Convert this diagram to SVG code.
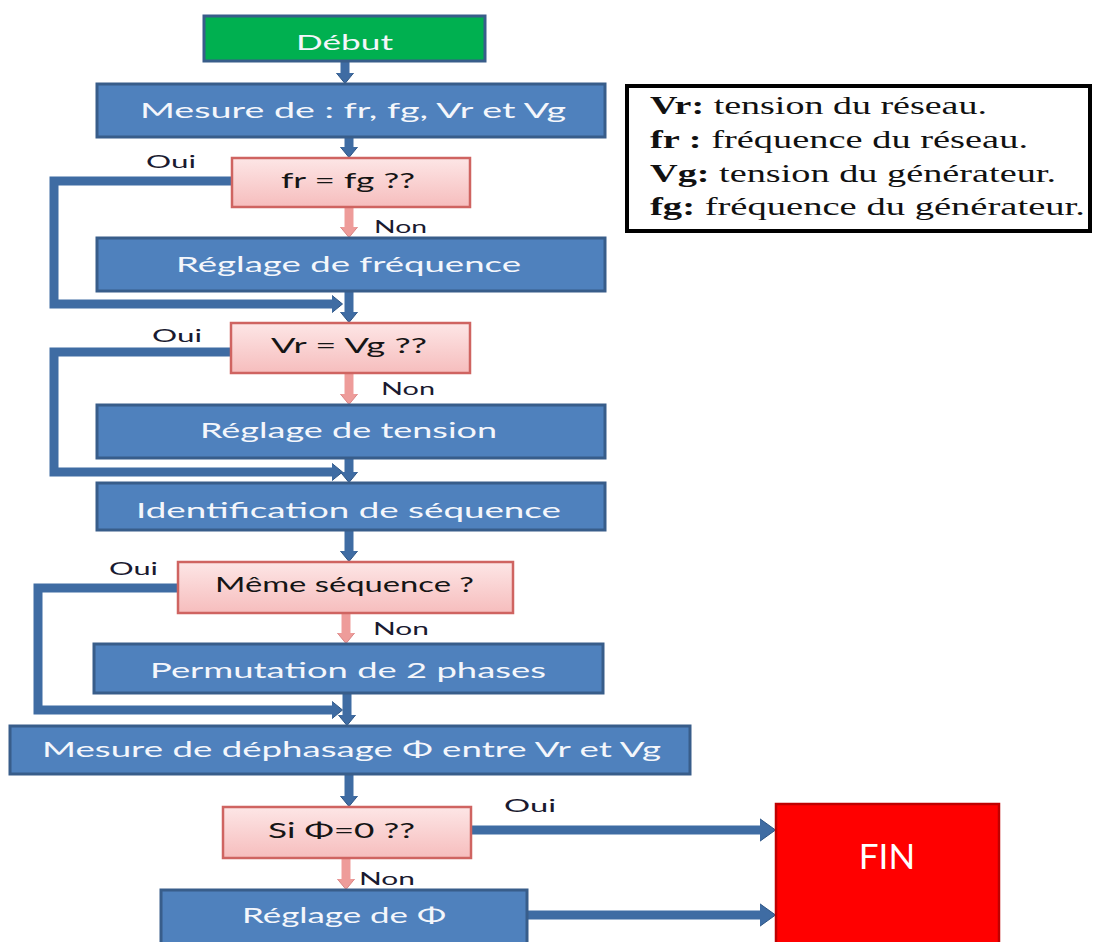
<svg xmlns="http://www.w3.org/2000/svg" width="1093" height="942" viewBox="0 0 1093 942">
<style>
.blue{fill:#4F81BD;stroke:#385D8A;stroke-width:3}
.pink{fill:url(#pg);stroke:#CF6461;stroke-width:2.5}
.wt{font-family:Lato,"Liberation Sans",sans-serif;font-size:22px;fill:#F4F6FB;text-anchor:start}
.dt{font-family:Lato,"Liberation Sans",sans-serif;font-size:22px;fill:#151515}
.lb{font-family:Lato,"Liberation Sans",sans-serif;font-size:18px;fill:#1A1A30}
.lg{font-family:"Liberation Serif","Times New Roman",serif;font-size:26px;fill:#111}
.cb{fill:none;stroke:#3F6CA3;stroke-width:9}
.cp{fill:none;stroke:#EE9C9A;stroke-width:9}
</style>
<defs>
<linearGradient id="pg" x1="0" y1="0" x2="0" y2="1">
<stop offset="0" stop-color="#FDE6E6"/>
<stop offset="1" stop-color="#F6BDBD"/>
</linearGradient>
<marker id="ab" markerUnits="userSpaceOnUse" markerWidth="12" markerHeight="20" viewBox="0 0 12 20" refX="0.5" refY="10" orient="auto">
<path d="M0,1 L11,10 L0,19 z" fill="#3F6CA3" stroke="#2D5585" stroke-width="1"/>
</marker>
<marker id="abl" markerUnits="userSpaceOnUse" markerWidth="18" markerHeight="26" viewBox="0 0 18 26" refX="0.5" refY="13" orient="auto">
<path d="M0,1.5 L16,13 L0,24.5 z" fill="#3F6CA3" stroke="#2D5585" stroke-width="1"/>
</marker>
<marker id="ap" markerUnits="userSpaceOnUse" markerWidth="12" markerHeight="20" viewBox="0 0 12 20" refX="0.5" refY="10" orient="auto">
<path d="M0,1 L11,10 L0,19 z" fill="#EE9C9A" stroke="#D98584" stroke-width="1"/>
</marker>
</defs>
<rect width="1093" height="942" fill="#FFFFFF"/>

<g id="connectors">
<path class="cb" d="M345,61 V73" marker-end="url(#ab)"/>
<path class="cb" d="M349,137 V147" marker-end="url(#ab)"/>
<path class="cp" d="M349,207 V227" marker-end="url(#ap)"/>
<path class="cb" d="M232,181 H54 V304 H332" marker-end="url(#ab)"/>
<path class="cb" d="M349,291 V312" marker-end="url(#ab)"/>
<path class="cp" d="M349,373 V394" marker-end="url(#ap)"/>
<path class="cb" d="M231,352 H54 V472 H332" marker-end="url(#ab)"/>
<path class="cb" d="M349,458 V472" marker-end="url(#ab)"/>
<path class="cb" d="M349,530 V551" marker-end="url(#ab)"/>
<path class="cp" d="M346,613 V633" marker-end="url(#ap)"/>
<path class="cb" d="M178,588 H38 V710 H332" marker-end="url(#ab)"/>
<path class="cb" d="M347,693 V715" marker-end="url(#ab)"/>
<path class="cb" d="M349,774 V796" marker-end="url(#ab)"/>
<path class="cp" d="M346,858 V879" marker-end="url(#ap)"/>
<path class="cb" d="M471,830 H760" marker-end="url(#abl)"/>
<path class="cb" d="M527,915 H760" marker-end="url(#abl)"/>
</g>

<g id="n-debut">
<rect x="204" y="16" width="281" height="45" fill="#00B050" stroke="#385D8A" stroke-width="3"/>
<text x="296" y="50" class="wt" font-size="23" textLength="97" lengthAdjust="spacingAndGlyphs">Début</text>
</g>
<g id="n-mesure">
<rect class="blue" x="97" y="84" width="508" height="53"/>
<text x="140" y="118" class="wt" textLength="426" lengthAdjust="spacingAndGlyphs">Mesure de : fr, fg, Vr et Vg</text>
</g>
<g id="n-frfg">
<rect class="pink" x="232" y="158" width="238" height="49"/>
<text x="281" y="188" class="dt" textLength="134" lengthAdjust="spacingAndGlyphs">fr = fg ??</text>
</g>
<g id="n-regfreq">
<rect class="blue" x="97" y="238" width="508" height="53"/>
<text x="176" y="272" class="wt" textLength="345" lengthAdjust="spacingAndGlyphs">Réglage de fréquence</text>
</g>
<g id="n-vrvg">
<rect class="pink" x="231" y="323" width="239" height="50"/>
<text x="271" y="353" class="dt" textLength="156" lengthAdjust="spacingAndGlyphs">Vr = Vg ??</text>
</g>
<g id="n-regtension">
<rect class="blue" x="97" y="405" width="508" height="53"/>
<text x="200" y="438" class="wt" textLength="297" lengthAdjust="spacingAndGlyphs">Réglage de tension</text>
</g>
<g id="n-ident">
<rect class="blue" x="97" y="483" width="508" height="47"/>
<text x="136" y="518" class="wt" textLength="425" lengthAdjust="spacingAndGlyphs">Identification de séquence</text>
</g>
<g id="n-meme">
<rect class="pink" x="178" y="562" width="335" height="51"/>
<text x="215" y="592" class="dt" font-size="20" textLength="259" lengthAdjust="spacingAndGlyphs">Même séquence ?</text>
</g>
<g id="n-permut">
<rect class="blue" x="94" y="644" width="509" height="49"/>
<text x="150" y="678" class="wt" textLength="396" lengthAdjust="spacingAndGlyphs">Permutation de 2 phases</text>
</g>
<g id="n-dephasage">
<rect class="blue" x="10" y="726" width="680" height="48"/>
<text x="42" y="757" class="wt" textLength="619" lengthAdjust="spacingAndGlyphs">Mesure de déphasage Φ entre Vr et Vg</text>
</g>
<g id="n-siphi">
<rect class="pink" x="223" y="807" width="248" height="51"/>
<text x="268" y="838" class="dt" textLength="147" lengthAdjust="spacingAndGlyphs">Si Φ=0 ??</text>
</g>
<g id="n-regphi">
<rect class="blue" x="161" y="890" width="366" height="56"/>
<text x="242" y="923" class="wt" textLength="204" lengthAdjust="spacingAndGlyphs">Réglage de Φ</text>
</g>
<g id="n-fin">
<rect x="776" y="804" width="223" height="145" fill="#FF0000" stroke="#C00000" stroke-width="2.5"/>
<text x="887" y="869" font-family="Lato,'Liberation Sans',sans-serif" font-size="35" fill="#FFFFFF" text-anchor="middle">FIN</text>
</g>

<g id="labels">
<text x="146" y="168" class="lb" textLength="50" lengthAdjust="spacingAndGlyphs">Oui</text>
<text x="374" y="233" class="lb" textLength="53" lengthAdjust="spacingAndGlyphs">Non</text>
<text x="152" y="342" class="lb" textLength="50" lengthAdjust="spacingAndGlyphs">Oui</text>
<text x="381" y="395" class="lb" textLength="54" lengthAdjust="spacingAndGlyphs">Non</text>
<text x="109" y="575" class="lb" textLength="49" lengthAdjust="spacingAndGlyphs">Oui</text>
<text x="373" y="635" class="lb" textLength="56" lengthAdjust="spacingAndGlyphs">Non</text>
<text x="504" y="812" class="lb" textLength="52" lengthAdjust="spacingAndGlyphs">Oui</text>
<text x="359" y="885" class="lb" textLength="56" lengthAdjust="spacingAndGlyphs">Non</text>
</g>

<g id="legend">
<rect x="627" y="86" width="463" height="145" fill="#FFFFFF" stroke="#000000" stroke-width="4"/>
<text x="650" y="114" class="lg" textLength="337" lengthAdjust="spacingAndGlyphs"><tspan font-weight="bold">Vr:</tspan> tension du réseau.</text>
<text x="650" y="148" class="lg" textLength="378" lengthAdjust="spacingAndGlyphs"><tspan font-weight="bold">fr :</tspan> fréquence du réseau.</text>
<text x="650" y="182" class="lg" textLength="406" lengthAdjust="spacingAndGlyphs"><tspan font-weight="bold">Vg:</tspan> tension du générateur.</text>
<text x="650" y="215" class="lg" textLength="435" lengthAdjust="spacingAndGlyphs"><tspan font-weight="bold">fg:</tspan> fréquence du générateur.</text>
</g>
</svg>
